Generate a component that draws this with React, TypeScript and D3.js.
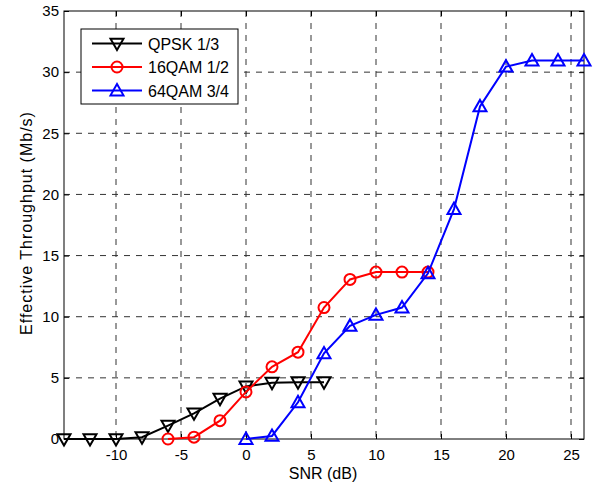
import React, { useEffect, useRef } from 'react';
import * as d3 from 'd3';

// x positions (SNR in dB) and throughput values for each scheme
const qpskSnr = [-14, -12, -10, -8, -6, -4, -2, 0, 2, 4, 6];
const qpskVals = [0, 0, 0, 0.15, 1.1, 2.1, 3.3, 4.3, 4.6, 4.65, 4.65];

const qam16Snr = [-6, -4, -2, 0, 2, 4, 6, 8, 10, 12, 14];
const qam16Vals = [0, 0.15, 1.5, 3.85, 5.9, 7.1, 10.75, 13.05, 13.65, 13.65, 13.65];

const qam64Snr = [0, 2, 4, 6, 8, 10, 12, 14, 16, 18, 20, 22, 24, 26];
const qam64Vals = [0, 0.25, 3.0, 7.0, 9.25, 10.15, 10.75, 13.55, 18.8, 27.2, 30.45, 30.95, 30.95, 30.95];

const xTicks = [-10, -5, 0, 5, 10, 15, 20, 25];
const yTicks = [0, 5, 10, 15, 20, 25, 30, 35];

const seriesNames = ['QPSK 1/3', '16QAM 1/2', '64QAM 3/4'];
const seriesColors = ['#000000', '#ff0000', '#0000ff'];
const seriesMarkers = ['down', 'circle', 'up'];

const App = () => {
  const svgRef = useRef<SVGSVGElement | null>(null);
  const width = 603;
  const height = 488;
  const margin = { top: 11, right: 19, bottom: 49, left: 64 };

  useEffect(() => {
    document.body.style.margin = '0';
    const svg = d3.select(svgRef.current);
    svg.selectAll('*').remove();

    const iw = width - margin.left - margin.right;
    const ih = height - margin.top - margin.bottom;

    const x = d3.scaleLinear().domain([-14, 26]).range([0, iw]);
    const y = d3.scaleLinear().domain([0, 35]).range([ih, 0]);

    const g = svg.append('g').attr('transform', `translate(${margin.left},${margin.top})`);
    const font = 'Liberation Sans, Arial, Helvetica, sans-serif';

    // dashed grid
    g.selectAll('.vgrid')
      .data(xTicks)
      .enter()
      .append('line')
      .attr('x1', (d) => x(d))
      .attr('x2', (d) => x(d))
      .attr('y1', 0)
      .attr('y2', ih)
      .attr('stroke', '#333')
      .attr('stroke-width', 1)
      .attr('stroke-dasharray', '6,6');
    g.selectAll('.hgrid')
      .data(yTicks.filter((d) => d > 0 && d < 35))
      .enter()
      .append('line')
      .attr('x1', 0)
      .attr('x2', iw)
      .attr('y1', (d) => y(d))
      .attr('y2', (d) => y(d))
      .attr('stroke', '#333')
      .attr('stroke-width', 1)
      .attr('stroke-dasharray', '6,6');

    // box
    g.append('rect')
      .attr('x', 0)
      .attr('y', 0)
      .attr('width', iw)
      .attr('height', ih)
      .attr('fill', 'none')
      .attr('stroke', '#000')
      .attr('stroke-width', 1);

    // axes with inward ticks on all sides
    const tickLen = 5;
    const fmt = (d: any) => String(d);
    const bottom = g.append('g').attr('transform', `translate(0,${ih})`)
      .call(d3.axisBottom(x).tickValues(xTicks).tickFormat(fmt).tickSizeInner(-tickLen).tickSizeOuter(0).tickPadding(10));
    const left = g.append('g')
      .call(d3.axisLeft(y).tickValues(yTicks).tickFormat(fmt).tickSizeInner(-tickLen).tickSizeOuter(0).tickPadding(5));
    g.append('g')
      .call(d3.axisTop(x).tickValues(xTicks).tickSizeInner(-tickLen).tickSizeOuter(0).tickFormat(() => ''));
    g.append('g').attr('transform', `translate(${iw},0)`)
      .call(d3.axisRight(y).tickValues(yTicks).tickSizeInner(-tickLen).tickSizeOuter(0).tickFormat(() => ''));
    g.selectAll('.domain').remove();
    g.selectAll('.tick line').attr('stroke', '#000');
    [bottom, left].forEach((a) =>
      a.selectAll('text').attr('font-family', font).attr('font-size', 15).attr('fill', '#000')
    );

    // axis labels
    svg.append('text')
      .attr('x', 323)
      .attr('y', 479)
      .attr('text-anchor', 'middle')
      .attr('font-family', font)
      .attr('font-size', 16)
      .text('SNR (dB)');
    svg.append('text')
      .attr('transform', `translate(32,223) rotate(-90)`)
      .attr('text-anchor', 'middle')
      .attr('font-family', font)
      .attr('font-size', 16)
      .attr('letter-spacing', 1)
      .text('Effective Throughput (Mb/s)');

    const drawMarker = (sel: any, type: string, color: string) => {
      if (type === 'circle') {
        sel.append('circle').attr('r', 5.5).attr('fill', 'none').attr('stroke', color).attr('stroke-width', 2);
      } else {
        const s = 6.5;
        const pts = type === 'up'
          ? [[0, -s], [s, s * 0.75], [-s, s * 0.75]]
          : [[0, s], [s, -s * 0.75], [-s, -s * 0.75]];
        sel.append('path')
          .attr('d', 'M' + pts.map((p) => p.join(',')).join('L') + 'Z')
          .attr('fill', 'none')
          .attr('stroke', color)
          .attr('stroke-width', 2)
          .attr('stroke-linejoin', 'miter');
      }
    };

    const allSnr = [qpskSnr, qam16Snr, qam64Snr];
    const allVals = [qpskVals, qam16Vals, qam64Vals];
    const line = d3.line<[number, number]>().x((d) => x(d[0])).y((d) => y(d[1]));

    allSnr.forEach((snr, i) => {
      const pts: [number, number][] = snr.map((s, j) => [s, allVals[i][j]]);
      g.append('path')
        .attr('d', line(pts))
        .attr('fill', 'none')
        .attr('stroke', seriesColors[i])
        .attr('stroke-width', 2);
      pts.forEach((p) => {
        const m = g.append('g').attr('transform', `translate(${x(p[0])},${y(p[1])})`);
        drawMarker(m, seriesMarkers[i], seriesColors[i]);
      });
    });

    // legend
    const lg = svg.append('g').attr('transform', 'translate(81,29)');
    lg.append('rect')
      .attr('width', 157)
      .attr('height', 75)
      .attr('fill', '#fff')
      .attr('stroke', '#000')
      .attr('stroke-width', 1);
    seriesNames.forEach((name, i) => {
      const yy = 14.5 + i * 23.5;
      lg.append('line')
        .attr('x1', 11)
        .attr('x2', 61)
        .attr('y1', yy)
        .attr('y2', yy)
        .attr('stroke', seriesColors[i])
        .attr('stroke-width', 2);
      const m = lg.append('g').attr('transform', `translate(36,${yy})`);
      drawMarker(m, seriesMarkers[i], seriesColors[i]);
      lg.append('text')
        .attr('x', 67)
        .attr('y', yy + 6)
        .attr('font-family', font)
        .attr('font-size', 16)
        .text(name);
    });
  }, []);

  return (
    <svg ref={svgRef} width={width} height={height} style={{ display: 'block', background: '#fff' }} />
  );
};

export default App;
